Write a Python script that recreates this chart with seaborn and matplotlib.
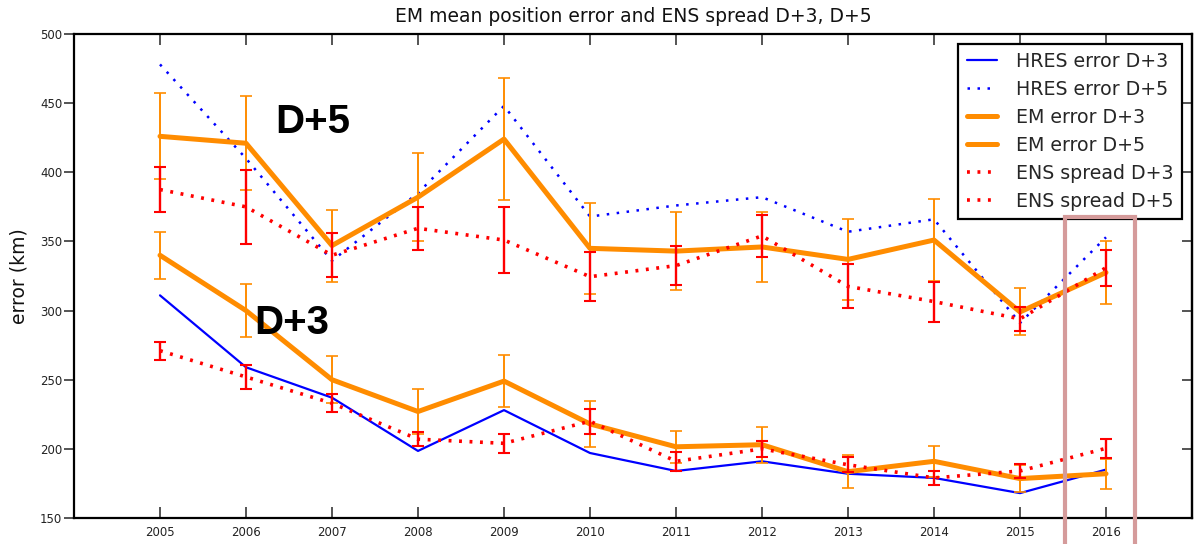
import matplotlib
matplotlib.use("Agg")
import matplotlib.pyplot as plt
from matplotlib.patches import Rectangle
import seaborn as sns
import numpy as np

# Tropical cyclone position error statistics by year (km)
years = [2005, 2006, 2007, 2008, 2009, 2010, 2011, 2012, 2013, 2014, 2015, 2016]

hres_d3 = [311, 259, 237, 198.5, 228, 197, 184, 191, 182, 179, 168, 185]
hres_d5 = [478, 410, 336, 385, 448, 368, 376, 382, 357, 366, 291, 353]

em_d3 = [340, 300, 250, 227, 249, 218, 201.5, 203, 183.5, 191, 178.5, 182]
em_d3_err = [17, 19, 17, 16, 19, 16.5, 11.5, 13, 12, 11, 9.5, 11]

em_d5 = [426, 421, 347, 382, 424, 345, 343, 346, 337, 351, 299, 327.5]
em_d5_err = [31, 34, 26, 32, 44, 33, 28, 25, 29, 29.5, 17, 23]

ens_d3 = [271, 252, 233, 207, 204, 220, 191, 200, 188.5, 179, 184, 200.4]
ens_d3_err = [6.5, 9, 6.7, 5, 7, 9, 7, 6, 5.5, 5, 5, 6.7]

ens_d5 = [387.5, 375, 340, 359.5, 351, 324.5, 332.5, 354, 317.5, 306.5, 294, 331]
ens_d5_err = [16, 27, 16, 15.5, 24, 17.5, 14, 15, 16, 14.5, 8.7, 13]

y_ticks = [150, 200, 250, 300, 350, 400, 450, 500]

BLUE = "#0000ff"
ORANGE = "#ff8c00"
RED = "#ff0000"

sns.set_style("white")
plt.rcParams["font.family"] = ["DejaVu Sans"]

fig = plt.figure(figsize=(12.03, 5.44), dpi=100)
ax = fig.add_axes([74 / 1203, 1 - 518 / 544, (1192 - 74) / 1203, (518 - 34) / 544])

blue_dots = (0, (1, 3))
red_dots = (0, (0.8, 2.1))

sns.lineplot(x=years, y=hres_d3, ax=ax, color=BLUE, lw=1.6, label="HRES error D+3")
sns.lineplot(x=years, y=hres_d5, ax=ax, color=BLUE, lw=1.8, linestyle=blue_dots,
             label="HRES error D+5")

sns.lineplot(x=years, y=em_d3, ax=ax, color=ORANGE, lw=3.6, label="EM error D+3")
ax.errorbar(years, em_d3, yerr=em_d3_err, fmt="none", ecolor=ORANGE,
            elinewidth=1.4, capsize=4.3, capthick=1.2)
sns.lineplot(x=years, y=em_d5, ax=ax, color=ORANGE, lw=3.6, label="EM error D+5")
ax.errorbar(years, em_d5, yerr=em_d5_err, fmt="none", ecolor=ORANGE,
            elinewidth=1.4, capsize=4.3, capthick=1.2)

sns.lineplot(x=years, y=ens_d3, ax=ax, color=RED, lw=2.6, linestyle=red_dots,
             label="ENS spread D+3")
ax.errorbar(years, ens_d3, yerr=ens_d3_err, fmt="none", ecolor=RED,
            elinewidth=1.7, capsize=4.3, capthick=1.5)
sns.lineplot(x=years, y=ens_d5, ax=ax, color=RED, lw=2.6, linestyle=red_dots,
             label="ENS spread D+5")
ax.errorbar(years, ens_d5, yerr=ens_d5_err, fmt="none", ecolor=RED,
            elinewidth=1.7, capsize=4.3, capthick=1.5)

ax.set_xlim(2004, 2017)
ax.set_ylim(150, 500)
ax.set_xticks(years)
ax.set_xticklabels([str(y) for y in years])
ax.set_yticks(y_ticks)
ax.set_yticklabels([str(v) for v in y_ticks])

for sp in ax.spines.values():
    sp.set_visible(True)
    sp.set_color("black")
    sp.set_linewidth(1.6)

ax.tick_params(axis="x", direction="in", top=True, bottom=True, length=8, width=1.1,
               labelsize=8.5, labelcolor="#222222", pad=6)
ax.tick_params(axis="y", direction="out", left=True, right=False, length=7, width=1.1,
               labelsize=8.5, labelcolor="#222222", pad=1.5)
sec = ax.secondary_yaxis("right")
sec.set_yticks(y_ticks)
sec.tick_params(axis="y", direction="in", length=7, width=1.1, labelright=False)
sec.spines["right"].set_linewidth(1.6)

ax.set_ylabel("error (km)", fontsize=13.5, labelpad=8, color="#111111")
ax.set_title("EM mean position error and ENS spread D+3, D+5", fontsize=13.5,
             pad=9, color="#111111")

ax.text(2006.34, 428.4, "D+5", fontsize=29, fontweight="bold",
        family="Liberation Sans", ha="left", va="baseline", color="black")
ax.text(2006.10, 283.1, "D+3", fontsize=29, fontweight="bold",
        family="Liberation Sans", ha="left", va="baseline", color="black")

leg = ax.legend(loc="upper right", fontsize=13.7, frameon=True, fancybox=False,
                framealpha=1, edgecolor="black", handlelength=1.6,
                handletextpad=1.0, labelspacing=0.47, borderpad=0.45,
                borderaxespad=0.5)
leg.get_frame().set_linewidth(1.6)

# highlight box around the latest season
box = Rectangle((2015.52, 125), 0.82, 368 - 125, fill=False, edgecolor="#d59b9b",
                lw=3.0, clip_on=False, zorder=10)
ax.add_patch(box)

fig.savefig("out.png", dpi=100)
